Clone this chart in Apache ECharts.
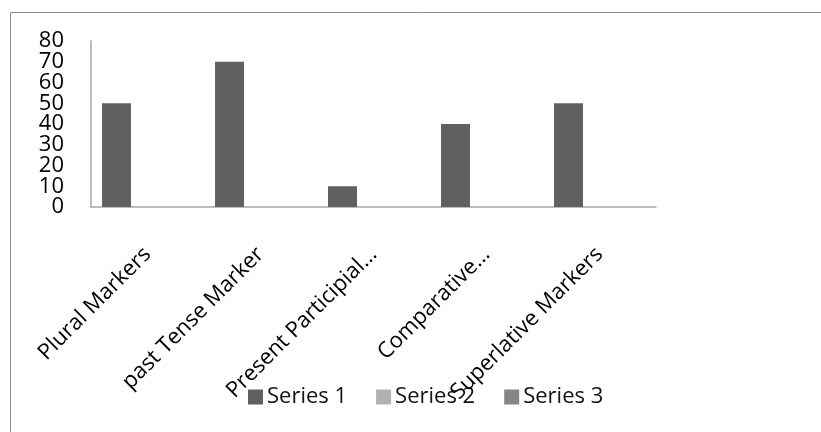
<!DOCTYPE html>
<html>
<head>
<meta charset="utf-8">
<script src="https://cdn.jsdelivr.net/npm/echarts@6/dist/echarts.min.js"></script>
<style>
  html, body { margin: 0; padding: 0; background: #fff; }
  #main { width: 821px; height: 432px; }
</style>
</head>
<body>
<div id="main"></div>
<script>
// chart data
var categories = ['Plural Markers', 'past Tense Marker', 'Present Participial...', 'Comparative...', 'Superlative Markers'];
var series1 = [50, 70, 10, 40, 50];
var series2 = [0, 0, 0, 0, 0];
var series3 = [0, 0, 0, 0, 0];
var seriesNames = ['Series 1', 'Series 2', 'Series 3'];
var colors = ['#606060', '#b2b2b2', '#858585'];

var myChart = echarts.init(document.getElementById('main'));
var font = 'Open Sans';

// the tick labels sit so close that echarts drops some, so odd and even
// ticks are labelled by two overlapping y axes
var yLabelStyle = {
    margin: 27,
    showMinLabel: true,
    showMaxLabel: true,
    fontFamily: font,
    fontSize: 22,
    color: '#000'
};

var option = {
    color: colors,
    animation: false,
    graphic: [{
        type: 'rect',
        shape: { x: 10.5, y: 12.5, width: 900, height: 500 },
        style: { fill: 'none', stroke: '#8e8e8e', lineWidth: 1 },
        silent: true
    }],
    legend: {
        data: seriesNames,
        left: 243,
        top: 381,
        itemWidth: 15,
        itemHeight: 15,
        itemGap: 29,
        icon: 'rect',
        textStyle: { fontFamily: font, fontSize: 22, color: '#111', padding: [0, 0, 0, -1] }
    },
    grid: {
        left: 91,
        right: 165,
        top: 41,
        bottom: 225,
        containLabel: false
    },
    xAxis: {
        type: 'category',
        data: categories,
        axisLine: { lineStyle: { color: '#a6a6a6', width: 1.5 } },
        axisTick: { show: false },
        axisLabel: {
            rotate: 45,
            margin: 44,
            interval: 0,
            fontFamily: font,
            fontSize: 22,
            color: '#000'
        }
    },
    yAxis: [{
        type: 'value',
        min: 0,
        max: 80,
        interval: 20,
        position: 'left',
        splitLine: { show: false },
        axisLine: { show: true, lineStyle: { color: '#a6a6a6', width: 1.5 } },
        axisTick: { show: false },
        axisLabel: yLabelStyle
    }, {
        type: 'value',
        min: 0,
        max: 80,
        interval: 10,
        position: 'left',
        splitLine: { show: false },
        axisLine: { show: false },
        axisTick: { show: false },
        axisLabel: Object.assign({}, yLabelStyle, {
            formatter: function (v) { return v % 20 === 10 ? String(v) : ''; }
        })
    }],
    series: [
        { name: seriesNames[0], type: 'bar', data: series1, barGap: '7%', barCategoryGap: '19.5%' },
        { name: seriesNames[1], type: 'bar', data: series2 },
        { name: seriesNames[2], type: 'bar', data: series3 }
    ]
};
myChart.setOption(option);
</script>
</body>
</html>
